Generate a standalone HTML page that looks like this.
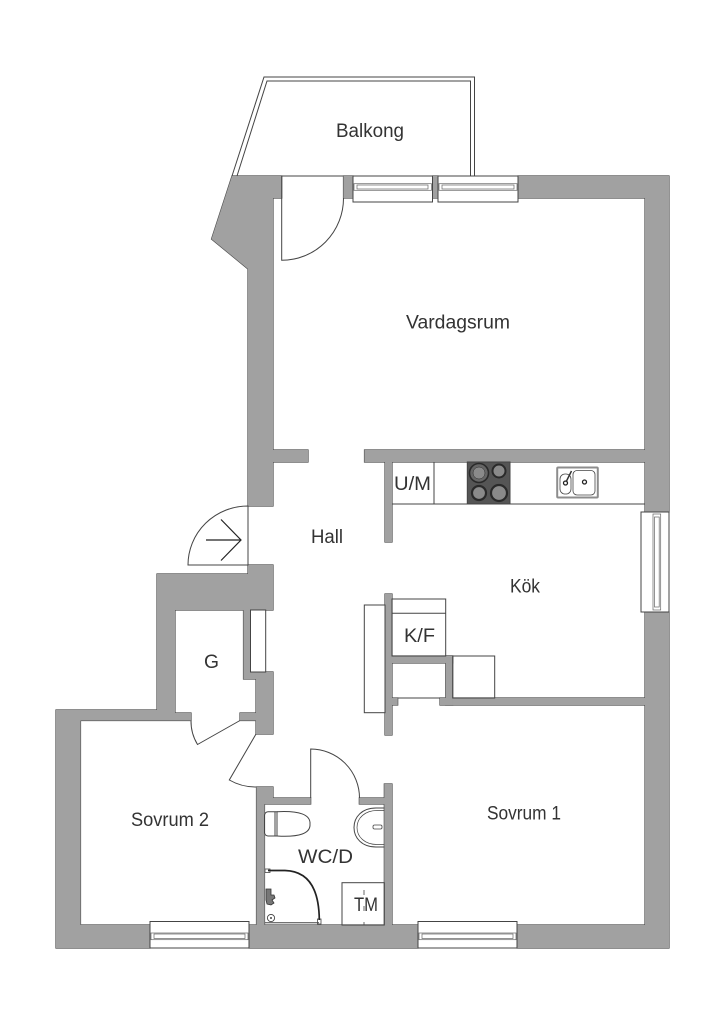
<!DOCTYPE html>
<html><head><meta charset="utf-8"><style>
html,body{margin:0;padding:0;background:#fff}
svg{display:block}
text{font-family:"Liberation Sans",sans-serif;font-size:19px;fill:#333;text-anchor:start}
</style></head><body>
<svg width="724" height="1024" viewBox="0 0 724 1024" xmlns="http://www.w3.org/2000/svg">
<rect width="724" height="1024" fill="#fff"/>
<defs><g id="w">
<polygon points="232,176 281.7,176 281.7,198 273,198 273,450 308,450 308,462 273,462 273,506 248,506 248,269 211.5,239"/>
<rect x="343.5" y="176" width="9.5" height="22"/>
<rect x="432.5" y="176" width="5.5" height="22"/>
<polygon points="518,176 669,176 669,512 645,512 645,462 364.5,462 364.5,450 645,450 645,198 518,198"/>
<rect x="385" y="462" width="7" height="80"/>
<polygon points="645,612 669,612 669,948 517,948 517,925 645,925 645,705 440,705 440,698 645,698"/>
<rect x="385" y="594" width="7" height="141"/>
<rect x="392" y="656" width="60.7" height="7"/>
<rect x="445.7" y="656" width="7" height="49"/>
<rect x="392" y="698" width="5.7" height="7"/>
<polygon points="157,574 248,574 248,565 273,565 273,610 250.5,610 250.5,672 273,672 273,734 256,734 256,720.5 240,720.5 240,713 256,713 256,679 243.5,679 243.5,610 175,610 175,713 191,713 191,720.5 80.5,720.5 80.5,925 150,925 150,948 56,948 56,710 157,710"/>
<polygon points="249,948 249,925 256.5,925 256.5,787 273,787 273,798 310.7,798 310.7,804 264.5,804 264.5,925 384.3,925 384.3,804 359.3,804 359.3,798 384.3,798 384.3,784 392,784 392,925 418,925 418,948"/>
</g></defs>
<use href="#w" fill="#4a4a4a" stroke="#4a4a4a" stroke-width="1.2" stroke-linejoin="miter"/>
<use href="#w" fill="#a1a1a1"/>

<g fill="none" stroke="#444" stroke-width="1">
<!-- balcony -->
<polyline points="232,176 264,77 474.5,77 474.5,176"/>
<polyline points="237,176 267,81 470.5,81 470.5,176"/>
<line x1="281.7" y1="176" x2="343.5" y2="176"/>
<!-- balcony door -->
<path d="M281.7 176V260.3A62 62 0 0 0 343.5 198" />
<!-- entrance door -->
<path d="M248 506A60 59 0 0 0 188 565H248Z" />
<!-- hall doors -->
<path d="M256 734L229.3 780A53 53 0 0 0 256 787"/>
<path d="M310.7 798V749A49 49 0 0 1 359.5 798"/>
<path d="M191 720.5A45 45 0 0 0 197.5 744.5L240 720.5"/>
<!-- closets -->
<rect x="250.5" y="610" width="15.2" height="62" fill="#fff"/>
<rect x="364.3" y="605" width="20.7" height="107.7" fill="#fff"/>
<!-- kitchen fixtures -->
<line x1="392" y1="504" x2="645" y2="504"/>
<line x1="434" y1="462" x2="434" y2="504"/>
<rect x="392" y="599" width="53.7" height="57"/>
<line x1="392" y1="613.3" x2="445.7" y2="613.3"/>
<rect x="452.7" y="656" width="42" height="42"/>
<line x1="397.7" y1="698" x2="440" y2="698"/>
<!-- TM -->
<rect x="342" y="882.7" width="42.3" height="42.3"/>
<line x1="364" y1="890" x2="364" y2="925" stroke-dasharray="5 11" stroke-width=".8"/>
<!-- Toilet -->
<path d="M277 811.7H268A4 4 0 0 0 264.5 815V833A4 4 0 0 0 268 836H277Z"/>
<path d="M277 811.7Q311 810 310 824Q311 838 277 836"/>
<path d="M275 812V836" />
<!-- basin -->
<path d="M384.3 808H376C362 808 354 817 354 827.5C354 838 362 847 376 847H384.3"/>
<path d="M384.3 810.5H377C365 810.5 357 818 357 827.5C357 837 365 844.5 377 844.5H384.3" stroke-width=".7"/>
<rect x="373" y="825" width="9" height="4" rx="1.5" stroke-width=".8"/>
<!-- shower -->
<line x1="265" y1="922.7" x2="319" y2="922.7"/>
<rect x="265" y="869" width="5" height="3.5" stroke-width=".8"/>
<rect x="317.5" y="919" width="3.5" height="5" stroke-width=".8"/>
<circle cx="271" cy="918" r="3.6" stroke-width=".9"/>
<circle cx="271" cy="918" r="1" fill="#444" stroke="none"/>
</g>
<path d="M268 870.5H285C305 871 319 884 319.3 920" fill="none" stroke="#222" stroke-width="1.7"/>
<path d="M266 889h5v6h3l1 3-3 2 2 3-3 2-4-1-1-4z" fill="#777" stroke="#333" stroke-width=".8"/>

<!-- arrow -->
<g fill="none" stroke="#222" stroke-width="1.2">
<line x1="206" y1="540" x2="241" y2="540"/>
<polyline points="221,519.5 241,540 221,560.5"/>
</g>

<!-- windows -->
<g fill="#fff" stroke="#444" stroke-width="1">
<rect x="353" y="176" width="79.5" height="26"/>
<rect x="438" y="176" width="80" height="26"/>
<rect x="641" y="512" width="28" height="100"/>
<rect x="150" y="921.5" width="99" height="26.5"/>
<rect x="418" y="921.5" width="99" height="26.5"/>
<g stroke-width=".7" stroke="#666">
<rect x="354" y="183.7" width="77.5" height="6.6"/>
<rect x="357" y="185" width="71" height="4"/>
<rect x="439" y="183.7" width="78" height="6.6"/>
<rect x="442" y="185" width="72" height="4"/>
<rect x="653" y="514" width="7.7" height="96"/>
<rect x="654.5" y="517" width="4.7" height="90"/>
<rect x="151" y="933" width="97" height="6.7"/>
<rect x="154" y="934" width="91" height="4.5"/>
<rect x="419" y="933" width="97" height="6.7"/>
<rect x="422" y="934" width="91" height="4.5"/>
</g></g>

<!-- hob -->
<rect x="467.3" y="462" width="42.7" height="42" fill="#555" stroke="#444"/>
<g stroke="#2a2a2a" fill="#8a8a8a">
<circle cx="479" cy="473" r="9.5" stroke-width="1.6" fill="#666"/><circle cx="479" cy="473" r="6" stroke-width=".5"/>
<circle cx="499" cy="471" r="6.5" stroke-width="2"/>
<circle cx="479" cy="493" r="7" stroke-width="2.2"/>
<circle cx="499" cy="493" r="8" stroke-width="2.2"/>
</g>
<!-- sink -->
<rect x="557.2" y="467.5" width="40.6" height="30" rx="1" fill="#fff" stroke="#8d8d8d" stroke-width="2"/>
<g fill="#fff" stroke="#444" stroke-width=".8">
<rect x="560" y="474" width="11" height="20" rx="5"/>
<rect x="573" y="470.5" width="22" height="24.5" rx="4"/>
</g>
<g fill="#fff" stroke="#222" stroke-width="1.3">
<circle cx="565.5" cy="483" r="2"/>
<circle cx="584.5" cy="482" r="2"/>
</g>
<line x1="566" y1="482" x2="571.5" y2="471" stroke="#333" stroke-width="1.5"/>

<!-- labels -->
<text x="336" y="137" textLength="68" lengthAdjust="spacingAndGlyphs">Balkong</text>
<text x="406" y="328.5" textLength="104" lengthAdjust="spacingAndGlyphs">Vardagsrum</text>
<text x="311" y="543" textLength="32" lengthAdjust="spacingAndGlyphs">Hall</text>
<text x="510" y="592.5" textLength="30" lengthAdjust="spacingAndGlyphs">Kök</text>
<text x="404" y="642" textLength="31" lengthAdjust="spacingAndGlyphs">K/F</text>
<text x="394" y="490" textLength="37" lengthAdjust="spacingAndGlyphs">U/M</text>
<text x="204" y="668" textLength="15" lengthAdjust="spacingAndGlyphs">G</text>
<text x="131" y="826" textLength="78" lengthAdjust="spacingAndGlyphs">Sovrum 2</text>
<text x="487" y="819.5" textLength="74" lengthAdjust="spacingAndGlyphs">Sovrum 1</text>
<text x="298" y="863" textLength="55" lengthAdjust="spacingAndGlyphs">WC/D</text>
<text x="354" y="911" textLength="24" lengthAdjust="spacingAndGlyphs">TM</text>
</svg>
</body></html>
